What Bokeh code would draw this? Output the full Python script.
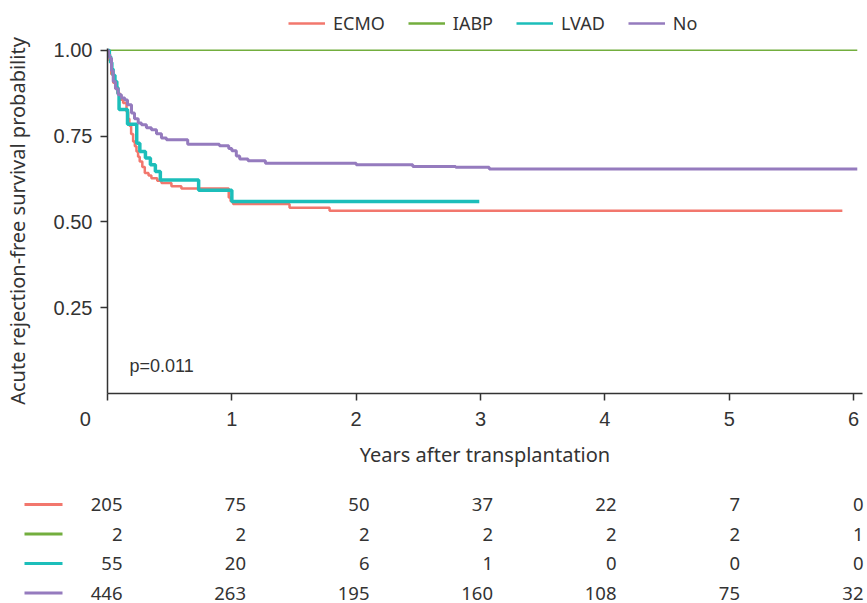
from bokeh.plotting import figure
from bokeh.models import (Range1d, FixedTicker, Legend, LegendItem, Label,
                          ColumnDataSource, CustomJSTickFormatter)
from bokeh.embed import file_html
from bokeh.resources import INLINE
from bokeh.core.properties import value

# ---------------- data ----------------
groups = ["ECMO", "IABP", "LVAD", "No"]
colors = ["#F2776D", "#73AE3E", "#1CBEBA", "#957BBE"]
widths = [2.5, 1.5, 3.5, 3.0]

ecmo_t = [0, 0.016, 0.03, 0.046, 0.064, 0.08, 0.099, 0.126, 0.153, 0.166, 0.176, 0.19,
          0.206, 0.22, 0.233, 0.246, 0.259, 0.28, 0.30, 0.33, 0.353, 0.40, 0.434, 0.514,
          0.594, 0.975, 0.99, 1.01, 1.464, 1.786, 5.91]
ecmo_s = [1.0, 0.97, 0.93, 0.905, 0.894, 0.875, 0.856, 0.846, 0.821, 0.80, 0.78, 0.756,
          0.734, 0.72, 0.705, 0.69, 0.676, 0.66, 0.642, 0.635, 0.627, 0.62, 0.613, 0.604,
          0.597, 0.571, 0.56, 0.552, 0.541, 0.532, 0.532]

iabp_t = [0, 6.03]
iabp_s = [1.0, 1.0]

lvad_t = [0, 0.015, 0.025, 0.035, 0.045, 0.06, 0.075, 0.085, 0.093, 0.161, 0.235, 0.26,
          0.305, 0.345, 0.385, 0.425, 0.733, 1.0, 2.99]
lvad_s = [1.0, 0.982, 0.964, 0.945, 0.927, 0.909, 0.891, 0.873, 0.827, 0.784, 0.729, 0.705,
          0.686, 0.666, 0.647, 0.622, 0.592, 0.559, 0.559]

no_t = [0, 0.008, 0.018, 0.032, 0.046, 0.064, 0.086, 0.112, 0.139, 0.161, 0.193, 0.217,
        0.247, 0.273, 0.313, 0.353, 0.394, 0.434, 0.474, 0.645, 0.90, 0.975, 1.0, 1.036,
        1.063, 1.13, 1.27, 2.0, 2.455, 2.80, 3.07, 6.03]
no_s = [1.0, 0.988, 0.977, 0.94, 0.909, 0.888, 0.870, 0.861, 0.855, 0.841, 0.817, 0.80,
        0.788, 0.783, 0.774, 0.768, 0.757, 0.744, 0.739, 0.726, 0.722, 0.714, 0.707, 0.692,
        0.683, 0.678, 0.671, 0.666, 0.661, 0.659, 0.654, 0.654]

risk_times = [0, 1, 2, 3, 4, 5, 6]
ecmo_risk = [205, 75, 50, 37, 22, 7, 0]
iabp_risk = [2, 2, 2, 2, 2, 2, 1]
lvad_risk = [55, 20, 6, 1, 0, 0, 0]
no_risk = [446, 263, 195, 160, 108, 75, 32]

x_ticks = [0, 1, 2, 3, 4, 5, 6]
y_ticks = [0.25, 0.5, 0.75, 1.0]
p_text = "p=0.011"

curves = [(ecmo_t, ecmo_s), (iabp_t, iabp_s), (lvad_t, lvad_s), (no_t, no_s)]
risks = [ecmo_risk, iabp_risk, lvad_risk, no_risk]

W = 867
TXT = "#333333"

# ---------------- legend strip (top) ----------------
LH = 36
lg = figure(width=W, height=LH, output_backend="svg", toolbar_location=None,
            x_range=Range1d(0, 1), y_range=Range1d(0, 1),
            x_axis_location=None, y_axis_location=None,
            min_border=0, min_border_left=0, min_border_right=0,
            min_border_top=0, min_border_bottom=0)
lg.grid.visible = False
lg.outline_line_color = None
items = []
for g, c in zip(groups, colors):
    # off-screen line: only its legend glyph is seen
    r = lg.line(x=[-10, -9], y=[-10, -9], line_color=c, line_width=2.5)
    items.append(LegendItem(label=g, renderers=[r]))
legend = Legend(items=items, orientation="horizontal", location=(288, 1),
                glyph_width=37, glyph_height=20, label_standoff=8, spacing=23,
                padding=0, margin=0, border_line_color=None,
                background_fill_alpha=0,
                label_text_font="Noto Sans", label_text_font_size="18px",
                label_text_color=TXT)
lg.add_layout(legend, "center")

# ---------------- main plot ----------------
p = figure(width=W, height=480 - LH, output_backend="svg", toolbar_location=None,
           x_range=Range1d(0, 6.072), y_range=Range1d(0, 1.005),
           min_border_left=106, min_border_right=5, min_border_top=12,
           min_border_bottom=87)
p.outline_line_color = None
p.grid.visible = False
p.background_fill_color = "white"

for g, c, w, (t, s) in zip(groups, colors, widths, curves):
    p.step(t, s, mode="after", line_color=c, line_width=w)

for ax in (p.xaxis[0], p.yaxis[0]):
    ax.axis_line_color = TXT
    ax.axis_line_width = 1.5
    ax.major_tick_line_color = TXT
    ax.major_tick_line_width = 1.5
    ax.major_tick_out = 7
    ax.major_tick_in = 0
    ax.minor_tick_line_color = None
    ax.major_label_text_color = TXT
    ax.major_label_text_font = "Liberation Sans"
    ax.axis_label_text_font = "Noto Sans"
    ax.axis_label_text_font_style = "normal"
    ax.axis_label_text_color = TXT
    ax.axis_label_text_font_size = "20px"

p.xaxis.ticker = FixedTicker(ticks=x_ticks)
# the "0" label sits left of its tick in the reference: pad it with no-break spaces
p.xaxis.major_label_overrides = {0: str(x_ticks[0]) + "\u00a0" * 8}
p.xaxis.major_label_text_font_size = "20px"
p.xaxis.major_label_standoff = 7
p.xaxis.axis_label = "Years after transplantation"
p.xaxis.axis_label_standoff = 8

p.yaxis.ticker = FixedTicker(ticks=y_ticks)
p.yaxis.formatter = CustomJSTickFormatter(code="return tick.toFixed(2);")
p.yaxis.major_label_text_font_size = "20px"
p.yaxis.major_label_standoff = 8
p.yaxis.axis_label = "Acute rejection-free survival probability"
p.yaxis.axis_label_standoff = 20

p.add_layout(Label(x=0.177, y=0.081, text=p_text, text_align="left",
                   text_baseline="alphabetic", text_font="Liberation Sans",
                   text_font_size="18px", text_color=TXT))

# ---------------- risk table ----------------
px0, pxs = 122.0, 123.5
TH = 123
row0, rowstep = 24.0, 29.5
tx_start = -px0 / pxs
tx_end = (W - px0) / pxs
ty_start = (TH - row0) / rowstep
ty_end = -row0 / rowstep

tb = figure(width=W, height=TH, output_backend="svg", toolbar_location=None,
            x_range=Range1d(tx_start, tx_end), y_range=Range1d(ty_start, ty_end),
            x_axis_location=None, y_axis_location=None,
            min_border=0, min_border_left=0, min_border_right=0,
            min_border_top=0, min_border_bottom=0)
tb.grid.visible = False
tb.outline_line_color = None

seg_x0 = (24 - px0) / pxs
seg_x1 = (62 - px0) / pxs
for i, (c, rk) in enumerate(zip(colors, risks)):
    tb.segment(x0=seg_x0, y0=i, x1=seg_x1, y1=i, line_color=c, line_width=3)
    src = ColumnDataSource(dict(x=risk_times, y=[i] * len(risk_times),
                                txt=[str(v) for v in rk]))
    tb.text(x="x", y="y", text="txt", source=src, text_align="right",
            text_baseline="middle", text_font=value("Noto Sans"),
            text_font_size="18.5px", text_color=TXT)

# three separate roots, stacked: keeps each strip's own frame
open("out.html", "w").write(file_html([lg, p, tb], INLINE))
